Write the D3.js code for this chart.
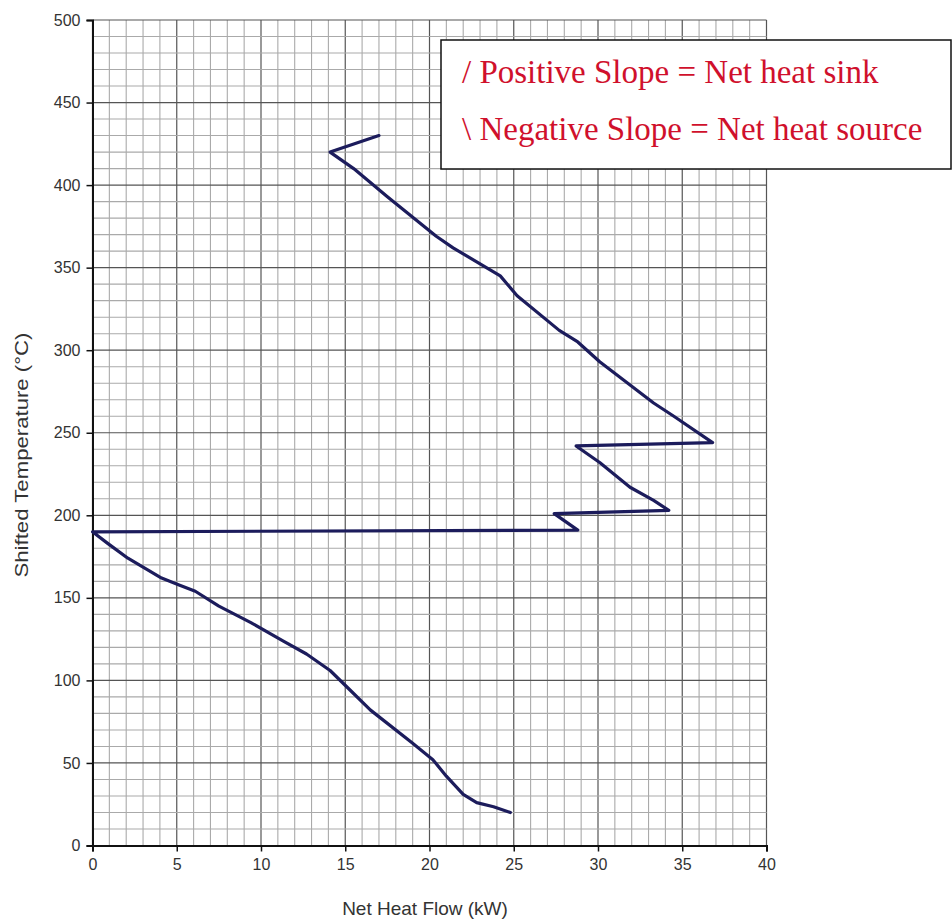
<!DOCTYPE html>
<html>
<head>
<meta charset="utf-8">
<script src="https://cdn.jsdelivr.net/npm/d3@7"></script>
<style>
  body { margin: 0; background: #fff; }
  svg { display: block; }
</style>
</head>
<body>
<div id="chart"></div>
<script>
// Net heat flow cascade
const heatFlow = [17.0, 14.1, 15.5, 17.5, 20.4, 21.4, 24.2, 25.2, 27.7, 28.8, 30.1, 33.3, 34.5, 36.8,
  28.7, 30.1, 31.9, 33.3, 34.2, 27.4, 28.8, 0, 0.9, 2.1, 3.1, 4.1, 5.1, 6.1, 7.5, 9.4, 11.3, 12.7,
  14.1, 15.1, 16.5, 19.0, 20.2, 21.0, 22.0, 22.8, 23.8, 24.8];
const temperature = [430, 420, 410, 393, 369, 362, 345, 333, 312, 305, 293, 268, 260, 244,
  242, 232, 217, 209, 203, 201, 191, 190, 183, 174, 168, 162, 158, 154, 145, 135, 124, 116,
  106, 96, 82, 62, 52, 42, 31, 26, 23.5, 20];
const xTicks = [0, 5, 10, 15, 20, 25, 30, 35, 40];
const yTicks = [0, 50, 100, 150, 200, 250, 300, 350, 400, 450, 500];
const legendLines = ["/ Positive Slope = Net heat sink", "\\ Negative Slope = Net heat source"];

const W = 952, H = 922;
const plotL = 92.5, plotT = 20, plotR = 766.5, plotB = 845.5;

const svg = d3.select('#chart').append('svg')
  .attr('width', W).attr('height', H);

const x = d3.scaleLinear().domain([0, 40]).range([plotL, plotR]);
const y = d3.scaleLinear().domain([0, 500]).range([plotB, plotT]);

// grid
const grid = svg.append('g');
grid.selectAll('line.vx').data(d3.range(0, 41)).enter().append('line')
  .attr('x1', d => x(d)).attr('x2', d => x(d))
  .attr('y1', plotT).attr('y2', plotB)
  .attr('stroke', d => d % 5 === 0 ? '#555' : '#aaa')
  .attr('stroke-width', d => d % 5 === 0 ? 1.2 : 1.1);
grid.selectAll('line.hy').data(d3.range(0, 510, 10)).enter().append('line')
  .attr('y1', d => y(d)).attr('y2', d => y(d))
  .attr('x1', plotL).attr('x2', plotR)
  .attr('stroke', d => d % 50 === 0 ? '#555' : '#aaa')
  .attr('stroke-width', d => d % 50 === 0 ? 1.2 : 1.1);

// axes
const xAxis = svg.append('g')
  .attr('transform', `translate(0,${plotB})`)
  .call(d3.axisBottom(x).tickValues(xTicks).tickSize(6).tickPadding(7));
const yAxis = svg.append('g')
  .attr('transform', `translate(${plotL},0)`)
  .call(d3.axisLeft(y).tickValues(yTicks).tickSize(6).tickPadding(6));
[xAxis, yAxis].forEach(a => {
  a.select('.domain').attr('stroke', '#111').attr('stroke-width', 2);
  a.selectAll('.tick line').attr('stroke', '#111').attr('stroke-width', 1.5);
  a.selectAll('.tick text')
    .attr('font-family', 'Liberation Sans, Arial, sans-serif')
    .attr('font-size', 16).attr('fill', '#333');
});

// axis titles
svg.append('text')
  .attr('x', 425).attr('y', 915)
  .attr('text-anchor', 'middle')
  .attr('font-family', 'Liberation Sans, Arial, sans-serif')
  .attr('font-size', 19).attr('fill', '#333')
  .text('Net Heat Flow (kW)');
svg.append('text')
  .attr('transform', 'translate(28,455) rotate(-90)')
  .attr('text-anchor', 'middle')
  .attr('font-family', 'Liberation Sans, Arial, sans-serif')
  .attr('font-size', 19).attr('fill', '#333')
  .attr('textLength', 245).attr('lengthAdjust', 'spacingAndGlyphs')
  .text('Shifted Temperature (°C)');

// curve
const pts = heatFlow.map((v, i) => [v, temperature[i]]);
svg.append('path')
  .datum(pts)
  .attr('fill', 'none')
  .attr('stroke', '#1c1c5c')
  .attr('stroke-width', 3.2)
  .attr('stroke-linejoin', 'round')
  .attr('stroke-linecap', 'round')
  .attr('d', d3.line().x(d => x(d[0])).y(d => y(d[1])));

// slope legend box
const box = svg.append('g');
box.append('rect')
  .attr('x', 441).attr('y', 40).attr('width', 510).attr('height', 129)
  .attr('fill', '#fff').attr('stroke', '#111').attr('stroke-width', 1.5);
box.selectAll('text').data(legendLines).enter().append('text')
  .attr('x', 462).attr('y', (d, i) => 83 + i * 57)
  .attr('font-family', 'Liberation Serif, Times New Roman, serif')
  .attr('font-size', 33).attr('fill', '#d0102c')
  .text(d => d);
</script>
</body>
</html>
